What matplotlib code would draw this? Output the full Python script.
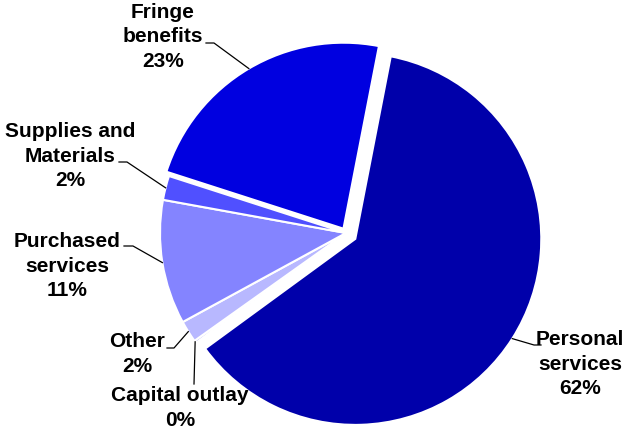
import numpy as np
import matplotlib.pyplot as plt

# budget shares by object of expenditure, percent
categories = ["Personal\nservices", "Capital outlay", "Other", "Purchased\nservices",
              "Supplies and\nMaterials", "Fringe\nbenefits"]
shares = [61.9, 0.2, 1.9, 10.8, 2.1, 23.1]
colors = ["#0000AA", "#4848F0", "#B8B8FF", "#8484FF", "#5050FF", "#0000E0"]
# wedge offsets from the centre, in pixels
explode = [11, 0, 0, 0, 0, 5]

W, H = 634, 430
CX, CY, R = 346, 233, 186

# label block centre (x, y from the top) and leader path next to the text
label_pos = [(580, 364), (180, 408), (137, 354), (67, 266), (70, 156), (163, 37)]
leader_end = [(541, 345), (194, 384), (167, 348), (124, 246), (119, 162), (206, 43)]
leader_elbow = [(534, 345), (194, 384), (174, 348), (133, 246), (127, 162), (214, 43)]

plt.rcParams["font.family"] = ["Liberation Sans", "DejaVu Sans"]

fig = plt.figure(figsize=(W / 100, H / 100), dpi=100)
ax = fig.add_axes([0, 0, 1, 1])

wedges, _ = ax.pie(
    shares,
    colors=colors,
    explode=explode,
    startangle=79,
    counterclock=False,
    center=(CX, H - CY),
    radius=R,
    frame=True,
    wedgeprops=dict(edgecolor="white", linewidth=1.5),
)
ax.set_xlim(0, W)
ax.set_ylim(0, H)
ax.set_aspect("equal")
ax.axis("off")

for i, w in enumerate(wedges):
    mid = np.deg2rad((w.theta1 + w.theta2) / 2)
    cx, cy = w.center
    px, py = cx + w.r * np.cos(mid), cy + w.r * np.sin(mid)
    ex, ey = leader_elbow[i]
    tx, ty = leader_end[i]
    ax.plot([px, ex, tx], [py, H - ey, H - ty], color="black", lw=0.9)
    pct = f"{round(shares[i])}%"
    x, y = label_pos[i]
    ax.text(x, H - y, f"{categories[i]}\n{pct}", ha="center", va="center",
            fontsize=15, fontweight="bold", linespacing=1.38)

fig.savefig("out.png", dpi=100)
